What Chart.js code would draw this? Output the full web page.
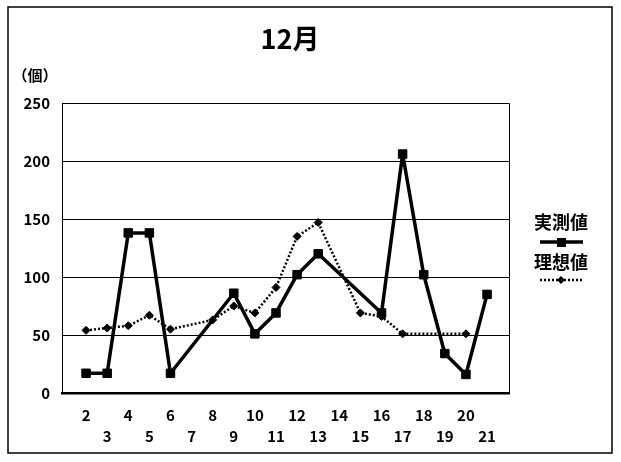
<!DOCTYPE html>
<html>
<head>
<meta charset="utf-8">
<script src="https://cdn.jsdelivr.net/npm/chart.js@4"></script>
<style>
  html, body { margin: 0; padding: 0; background: #fff; }
  #wrap { width: 621px; height: 462px; }
</style>
</head>
<body>
<div id="wrap"><canvas id="dayChart" width="621" height="462"></canvas></div>
<script>
// days of the month (x categories)
const days = [2, 3, 4, 5, 6, 7, 8, 9, 10, 11, 12, 13, 14, 15, 16, 17, 18, 19, 20, 21];

// 実測値 (measured), null = no data that day
const measured = [17, 17, 138, 138, 17, null, null, 86, 51, 69, 102, 120, null, null, 69, 206, 102, 34, 16, 85];

// 理想値 (ideal)
const ideal = [54, 56, 58, 67, 55, null, 63, 75, 69, 91, 135, 147, null, 69, 66, 51, null, null, 51, null];

const yTicks = [0, 50, 100, 150, 200, 250];

const chartTitle = '12月';
const yUnit = '（個）';
const seriesNames = ['実測値', '理想値'];

const fontFamily = "'Noto Sans CJK JP', sans-serif";

const toPoints = (arr) => days.map((d, i) => ({ x: d, y: arr[i] }));

// title, unit label, legend and outer frame
const decorations = {
    id: 'decorations',
    beforeDraw(chart) {
        const c = chart.ctx;
        c.save();
        c.fillStyle = '#fff';
        c.fillRect(0, 0, chart.width, chart.height);
        c.restore();
    },
    afterDraw(chart) {
        const c = chart.ctx;
        const area = chart.chartArea;
        c.save();
        c.strokeStyle = '#000';
        c.lineWidth = 1.5;
        c.strokeRect(8, 7, 604, 446);

        // plot border top/right/left
        c.lineWidth = 1;
        c.beginPath();
        c.moveTo(area.left + 0.5, area.bottom);
        c.lineTo(area.left + 0.5, area.top + 0.5);
        c.lineTo(area.right + 0.5, area.top + 0.5);
        c.lineTo(area.right + 0.5, area.bottom);
        c.stroke();

        c.fillStyle = '#000';
        c.textBaseline = 'middle';
        c.textAlign = 'center';
        c.font = 'bold 27px ' + fontFamily;
        c.fillText(chartTitle, 290, 39);

        c.font = 'bold 15px ' + fontFamily;
        c.fillText(yUnit, 35, 75);

        // legend
        const ds = chart.data.datasets;
        c.font = 'bold 18px ' + fontFamily;
        c.fillText(seriesNames[0], 561, 222);
        c.fillText(seriesNames[1], 561, 262);

        c.lineWidth = ds[0].borderWidth;
        c.beginPath();
        c.moveTo(540, 242);
        c.lineTo(583, 242);
        c.stroke();
        c.fillRect(557, 238, 9, 9);

        c.lineWidth = ds[1].borderWidth;
        c.setLineDash(ds[1].borderDash);
        c.beginPath();
        c.moveTo(540, 280);
        c.lineTo(583, 280);
        c.stroke();
        c.setLineDash([]);
        c.beginPath();
        c.moveTo(561, 276);
        c.lineTo(565, 280);
        c.lineTo(561, 284);
        c.lineTo(557, 280);
        c.closePath();
        c.fill();
        c.restore();
    }
};

const ctx = document.getElementById('dayChart').getContext('2d');

const dayChart = new Chart(ctx, {
    type: 'line',
    data: {
        datasets: [{
            label: seriesNames[0],
            data: toPoints(measured),
            borderColor: '#000',
            backgroundColor: '#000',
            borderWidth: 3.5,
            borderJoinStyle: 'bevel',
            pointStyle: 'rect',
            pointRadius: 6,
            pointBorderWidth: 1,
            spanGaps: true,
            tension: 0
        }, {
            label: seriesNames[1],
            data: toPoints(ideal),
            borderColor: '#000',
            backgroundColor: '#000',
            borderWidth: 2.5,
            borderDash: [2, 2],
            borderJoinStyle: 'bevel',
            pointStyle: 'rectRot',
            pointRadius: 4,
            pointBorderWidth: 1,
            spanGaps: true,
            tension: 0
        }]
    },
    options: {
        responsive: false,
        animation: false,
        layout: {
            padding: { left: 0, top: 103, right: 112, bottom: 0 }
        },
        plugins: {
            legend: { display: false },
            title: { display: false },
            tooltip: { enabled: false }
        },
        scales: {
            x: {
                type: 'linear',
                min: 0.86,
                max: 22.04,
                afterBuildTicks: (scale) => {
                    scale.ticks = days.map(d => ({ value: d }));
                },
                afterFit: (scale) => { scale.height = 69; },
                grid: { display: false, drawTicks: false },
                border: { display: true, color: '#000', width: 2.5 },
                ticks: {
                    autoSkip: false,
                    maxRotation: 0,
                    padding: 11,
                    color: '#000',
                    font: { family: fontFamily, size: 15, weight: 'bold', lineHeight: 1.45 },
                    callback: function (value) {
                        const i = days.indexOf(value);
                        if (i < 0) return '';
                        return i % 2 === 0 ? [String(value), ''] : ['', String(value)];
                    }
                }
            },
            y: {
                min: 0,
                max: 250,
                afterBuildTicks: (scale) => {
                    scale.ticks = yTicks.map(v => ({ value: v }));
                },
                afterFit: (scale) => { scale.width = 62; },
                grid: { color: '#000', lineWidth: 1, drawTicks: false },
                border: { display: true, color: '#000', width: 1 },
                ticks: {
                    padding: 12,
                    color: '#000',
                    font: { family: fontFamily, size: 15, weight: 'bold' }
                }
            }
        }
    },
    plugins: [decorations]
});
</script>
</body>
</html>
